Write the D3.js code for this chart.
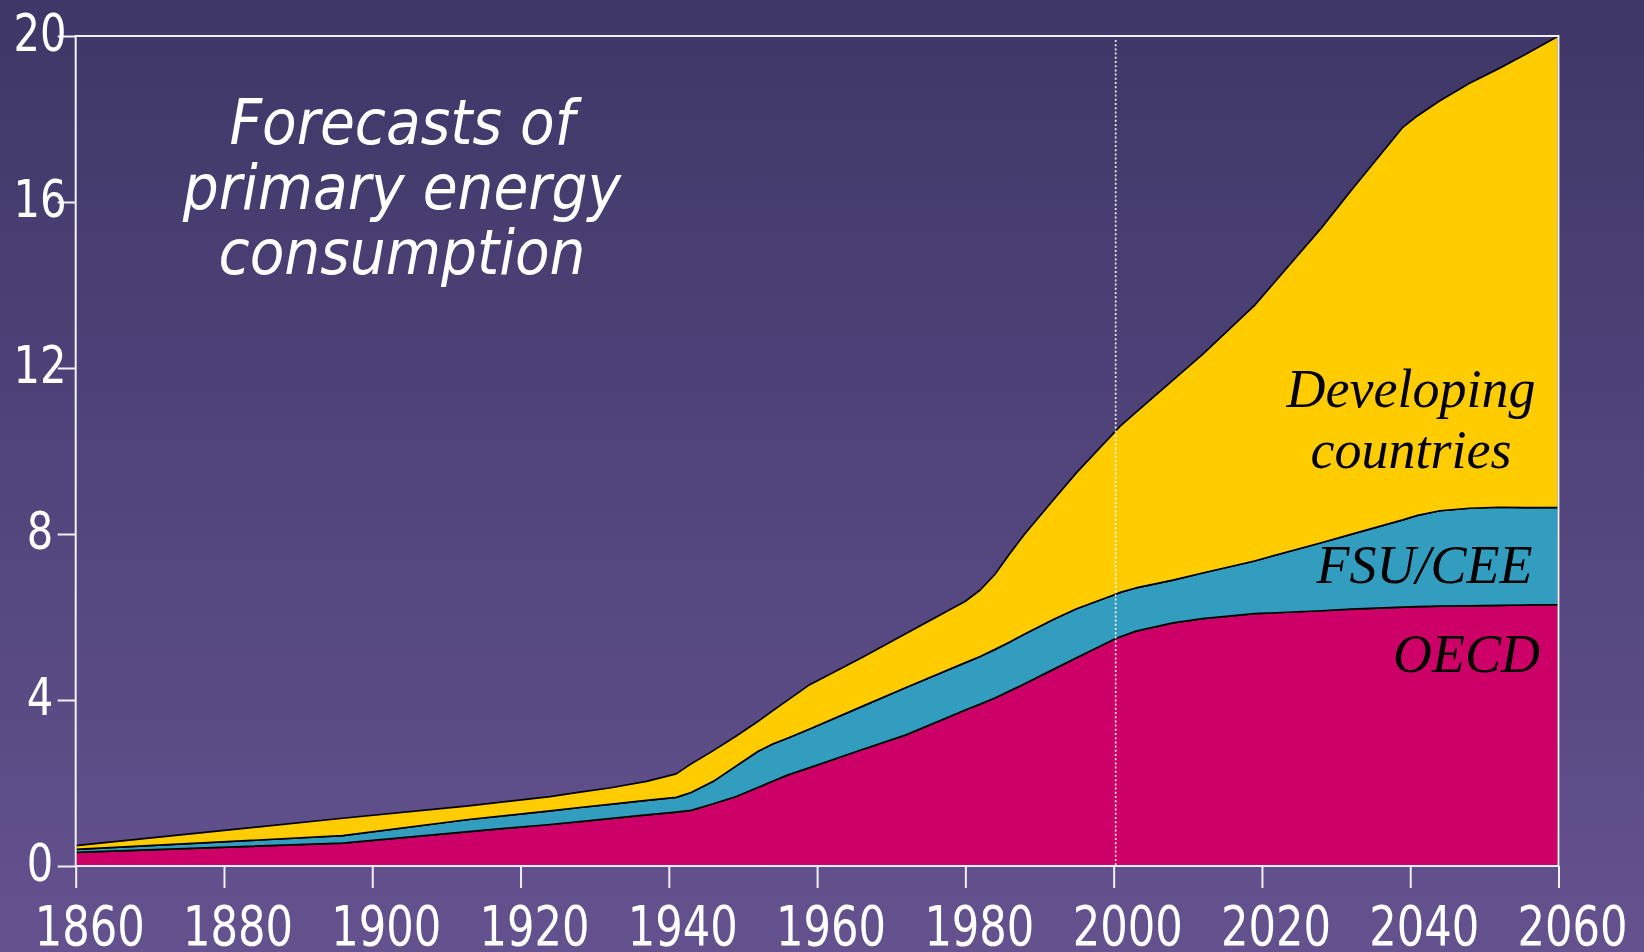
<!DOCTYPE html>
<html>
<head>
<meta charset="utf-8">
<script src="https://cdn.jsdelivr.net/npm/d3@7/dist/d3.min.js"></script>
<style>
  html, body { margin: 0; padding: 0; background: #4f427b; }
  svg { display: block; }
</style>
</head>
<body>
<svg id="chart" width="1644" height="952"></svg>
<script>
// ---- Data ----
const years = [1860, 1896, 1913, 1924, 1928, 1932, 1937, 1941, 1943, 1946, 1949, 1952, 1954, 1956, 1959,
               1966, 1972, 1980, 1982, 1984, 1986, 1988, 1992, 1995, 2000, 2001, 2003, 2008, 2012, 2019,
               2028, 2032, 2039, 2041, 2044, 2048, 2052, 2056, 2060];
const oecd = [0.33, 0.55, 0.83, 1.00, 1.07, 1.14, 1.23, 1.30, 1.34, 1.50, 1.67, 1.89, 2.04, 2.19, 2.37,
              2.80, 3.16, 3.76, 3.90, 4.05, 4.22, 4.39, 4.75, 5.02, 5.46, 5.53, 5.66, 5.86, 5.96, 6.08,
              6.15, 6.19, 6.24, 6.25, 6.26, 6.27, 6.28, 6.29, 6.30];
const fsuCee = [0.07, 0.18, 0.29, 0.33, 0.34, 0.345, 0.35, 0.355, 0.43, 0.54, 0.73, 0.87, 0.90, 0.89, 0.93,
                1.04, 1.14, 1.14, 1.15, 1.17, 1.18, 1.20, 1.20, 1.18, 1.07, 1.07, 1.04, 1.03, 1.10, 1.27,
                1.64, 1.80, 2.10, 2.20, 2.30, 2.35, 2.365, 2.345, 2.34];
const developing = [0.09, 0.42, 0.33, 0.34, 0.37, 0.395, 0.46, 0.565, 0.69, 0.74, 0.72, 0.72, 0.80, 0.91, 1.07,
                    1.18, 1.30, 1.48, 1.60, 1.81, 2.13, 2.41, 2.90, 3.28, 3.90, 4.02, 4.23, 4.82, 5.27, 6.16,
                    7.58, 8.28, 9.46, 9.63, 9.88, 10.24, 10.575, 10.965, 11.36];
const seriesKeys = ["OECD", "FSU/CEE", "Developing countries"];
const seriesColors = ["#cc0066", "#339dc0", "#ffcc00"];
const xTicks = [1860, 1880, 1900, 1920, 1940, 1960, 1980, 2000, 2020, 2040, 2060];
const yTicks = [0, 4, 8, 12, 16, 20];
const forecastStart = 2000;
const titleLines = ["Forecasts of", "primary energy", "consumption"];

// ---- Setup ----
const W = 1644, H = 952;
const svg = d3.select("#chart");
const defs = svg.append("defs");
const grad = defs.append("linearGradient").attr("id", "bg").attr("x1", 0).attr("y1", 0).attr("x2", 0).attr("y2", 1);
grad.append("stop").attr("offset", "0%").attr("stop-color", "#3e3767");
grad.append("stop").attr("offset", "100%").attr("stop-color", "#64528f");
svg.append("rect").attr("width", W).attr("height", H).attr("fill", "url(#bg)");

const x = d3.scaleLinear().domain([1860, 2060]).range([75.7, 1558.5]);
const y = d3.scaleLinear().domain([0, 20]).range([866, 36]);

// ---- Stacked areas ----
const rows = years.map((yr, i) => ({ year: yr, "OECD": oecd[i], "FSU/CEE": fsuCee[i], "Developing countries": developing[i] }));
const layers = d3.stack().keys(seriesKeys)(rows);
const area = d3.area()
  .x(d => x(d.data.year))
  .y0(d => y(d[0]))
  .y1(d => y(d[1]));

svg.append("g").selectAll("path")
  .data(layers)
  .join("path")
  .attr("d", area)
  .attr("fill", (d, i) => seriesColors[i])
  .attr("stroke", "#000")
  .attr("stroke-width", 1.7)
  .attr("stroke-linejoin", "round");

// ---- Dotted line at forecast start ----
svg.append("line")
  .attr("x1", x(forecastStart) + 2).attr("x2", x(forecastStart) + 2)
  .attr("y1", y(20) + 4).attr("y2", y(0))
  .attr("stroke", "#ffffff").attr("stroke-width", 1.6)
  .attr("stroke-dasharray", "2,2.2");

// ---- Frame & ticks ----
const frameColor = "#f2f0fa";
svg.append("rect")
  .attr("x", x(1860)).attr("y", y(20))
  .attr("width", x(2060) - x(1860)).attr("height", y(0) - y(20))
  .attr("fill", "none").attr("stroke", frameColor).attr("stroke-width", 2);

const yAxis = svg.append("g").attr("transform", `translate(${x(1860)},0)`)
  .call(d3.axisLeft(y).tickValues(yTicks).tickSize(18).tickFormat(""));
yAxis.select(".domain").remove();
yAxis.selectAll(".tick line").attr("stroke", frameColor).attr("stroke-width", 2);

const xAxis = svg.append("g").attr("transform", `translate(0,${y(0)})`)
  .call(d3.axisBottom(x).tickValues(xTicks).tickSize(22).tickFormat(""));
xAxis.select(".domain").remove();
xAxis.selectAll(".tick line").attr("stroke", frameColor).attr("stroke-width", 2);

const labelFont = "'DejaVu Sans Condensed', 'DejaVu Sans', sans-serif";

// y labels
svg.append("g").selectAll("text")
  .data(yTicks)
  .join("text")
  .attr("x", 40)
  .attr("y", d => y(d) + 15)
  .attr("text-anchor", "middle")
  .attr("font-family", labelFont)
  .attr("font-stretch", "condensed")
  .attr("font-size", 52)
  .attr("fill", "#ffffff")
  .attr("textLength", d => String(d).length * 26.5)
  .attr("lengthAdjust", "spacingAndGlyphs")
  .text(d => d);

// x labels
svg.append("g").selectAll("text")
  .data(xTicks)
  .join("text")
  .attr("x", d => x(d) + 14)
  .attr("y", 945)
  .attr("text-anchor", "middle")
  .attr("font-family", labelFont)
  .attr("font-stretch", "condensed")
  .attr("font-size", 55)
  .attr("fill", "#ffffff")
  .attr("textLength", 110)
  .attr("lengthAdjust", "spacingAndGlyphs")
  .text(d => d);

// ---- Title ----
svg.append("text")
  .attr("x", 402).attr("y", 144)
  .attr("text-anchor", "middle")
  .attr("font-family", labelFont)
  .attr("font-stretch", "condensed")
  .attr("font-style", "italic")
  .attr("font-size", 63)
  .attr("fill", "#ffffff")
  .selectAll("tspan")
  .data(titleLines)
  .join("tspan")
  .attr("x", 402)
  .attr("dy", (d, i) => i === 0 ? 0 : 65)
  .text(d => d);

// ---- Series labels ----
const serif = "'Liberation Serif', 'Times New Roman', serif";
const seriesLabels = [
  { text: "Developing", year: 2040.1, value: 11.06, anchor: "middle" },
  { text: "countries", year: 2040.1, value: 9.59, anchor: "middle" },
  { text: "FSU/CEE", year: 2056.5, value: 6.82, anchor: "end" },
  { text: "OECD", year: 2057.5, value: 4.67, anchor: "end" }
];
svg.append("g").selectAll("text")
  .data(seriesLabels)
  .join("text")
  .attr("x", d => x(d.year))
  .attr("y", d => y(d.value))
  .attr("text-anchor", d => d.anchor)
  .attr("font-family", serif)
  .attr("font-style", "italic")
  .attr("font-size", 54)
  .attr("fill", "#000")
  .text(d => d.text);
</script>
</body>
</html>
